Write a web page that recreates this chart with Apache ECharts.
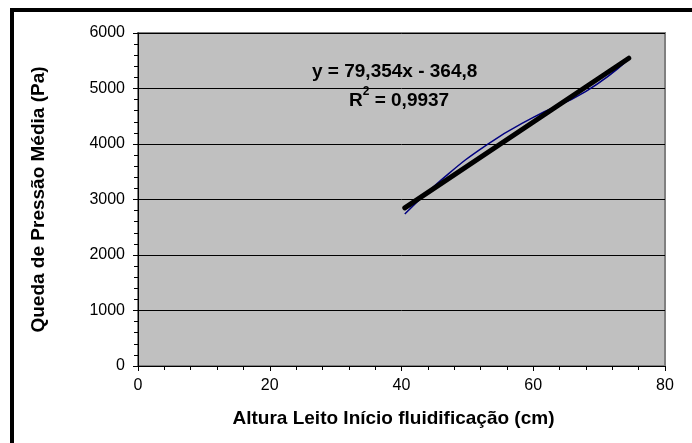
<!DOCTYPE html>
<html>
<head>
<meta charset="utf-8">
<script src="https://cdn.jsdelivr.net/npm/echarts@6/dist/echarts.min.js"></script>
<style>
    html, body { margin: 0; padding: 0; background: #fff; }
    #frame { position: absolute; left: 10px; top: 8px; width: 682px; height: 435px;
             border-left: 4px solid #000; border-top: 4px solid #000; }
    #chart { position: absolute; left: 0; top: 0; width: 692px; height: 443px; }
</style>
</head>
<body>
<div id="frame"></div>
<div id="chart"></div>
<script>
// dados medidos (altura do leito x queda de pressão)
var alturaLeito = [40.5, 46, 53, 60, 68, 74.5];
var quedaPressao = [2740, 3350, 3990, 4480, 4950, 5530];

// linha de tendência linear (extremos)
var tendX = [40.5, 74.5];
var tendY = [2850, 5545];

var xTicks = [0, 20, 40, 60, 80];
var yTicks = [0, 1000, 2000, 3000, 4000, 5000, 6000];

var equacao = 'y = 79,354x - 364,8';
var r2 = '{a|R}{s|2}{a| = 0,9937}';

var chart = echarts.init(document.getElementById('chart'));

var fonte = 'Liberation Sans, Arial, sans-serif';

chart.setOption({
    animation: false,
    grid: {
        left: 138,
        top: 33,
        right: 27,
        bottom: 77,
        show: true,
        backgroundColor: '#c0c0c0',
        borderColor: '#808080',
        borderWidth: 2
    },
    xAxis: {
        type: 'value',
        min: xTicks[0],
        max: xTicks[xTicks.length - 1],
        interval: 20,
        name: 'Altura Leito Início fluidificação (cm)',
        nameLocation: 'middle',
        nameGap: 43,
        nameTextStyle: { fontFamily: fonte, fontWeight: 'bold', fontSize: 19, color: '#000', padding: [0, 16, 0, 0] },
        axisLine: { onZero: false, lineStyle: { color: '#000', width: 1 } },
        axisTick: { inside: false, length: 5, lineStyle: { color: '#000' } },
        minorTick: { show: true, splitNumber: 5, length: 4, lineStyle: { color: '#000' } },
        axisLabel: { fontFamily: fonte, fontSize: 16, color: '#000', margin: 12 },
        splitLine: { show: false }
    },
    yAxis: {
        type: 'value',
        min: yTicks[0],
        max: yTicks[yTicks.length - 1],
        interval: 1000,
        name: 'Queda de Pressão Média (Pa)',
        nameLocation: 'middle',
        nameGap: 90,
        nameTextStyle: { fontFamily: fonte, fontWeight: 'bold', fontSize: 19, color: '#000' },
        axisLine: { show: true, onZero: false, lineStyle: { color: '#000', width: 1 } },
        axisTick: { inside: false, length: 5, lineStyle: { color: '#000' } },
        minorTick: { show: true, splitNumber: 5, length: 4, lineStyle: { color: '#000' } },
        axisLabel: {
            fontFamily: fonte, fontSize: 16, color: '#000', margin: 13,
            formatter: function (v) { return String(v); }
        },
        splitLine: { show: true, lineStyle: { color: '#000', width: 1 } }
    },
    series: [
        {
            name: 'dados',
            type: 'line',
            smooth: true,
            symbol: 'none',
            data: alturaLeito.map(function (x, i) { return [x, quedaPressao[i]]; }),
            lineStyle: { color: '#000080', width: 1.5 },
            z: 2
        },
        {
            name: 'tendência',
            type: 'line',
            symbol: 'none',
            data: tendX.map(function (x, i) { return [x, tendY[i]]; }),
            lineStyle: { color: '#000', width: 5, cap: 'round' },
            z: 3
        }
    ],
    graphic: [
        {
            type: 'text',
            left: 312,
            top: 62,
            style: { text: equacao, fontFamily: fonte, fontWeight: 'bold', fontSize: 19, fill: '#000' }
        },
        {
            type: 'text',
            left: 349,
            top: 86,
            style: {
                text: r2,
                rich: {
                    a: { fontFamily: fonte, fontWeight: 'bold', fontSize: 19, fill: '#000', verticalAlign: 'bottom', lineHeight: 24 },
                    s: { fontFamily: fonte, fontWeight: 'bold', fontSize: 12, fill: '#000', verticalAlign: 'top', lineHeight: 24, padding: [0, 0, 10, 0] }
                }
            }
        }
    ]
});
</script>
</body>
</html>
